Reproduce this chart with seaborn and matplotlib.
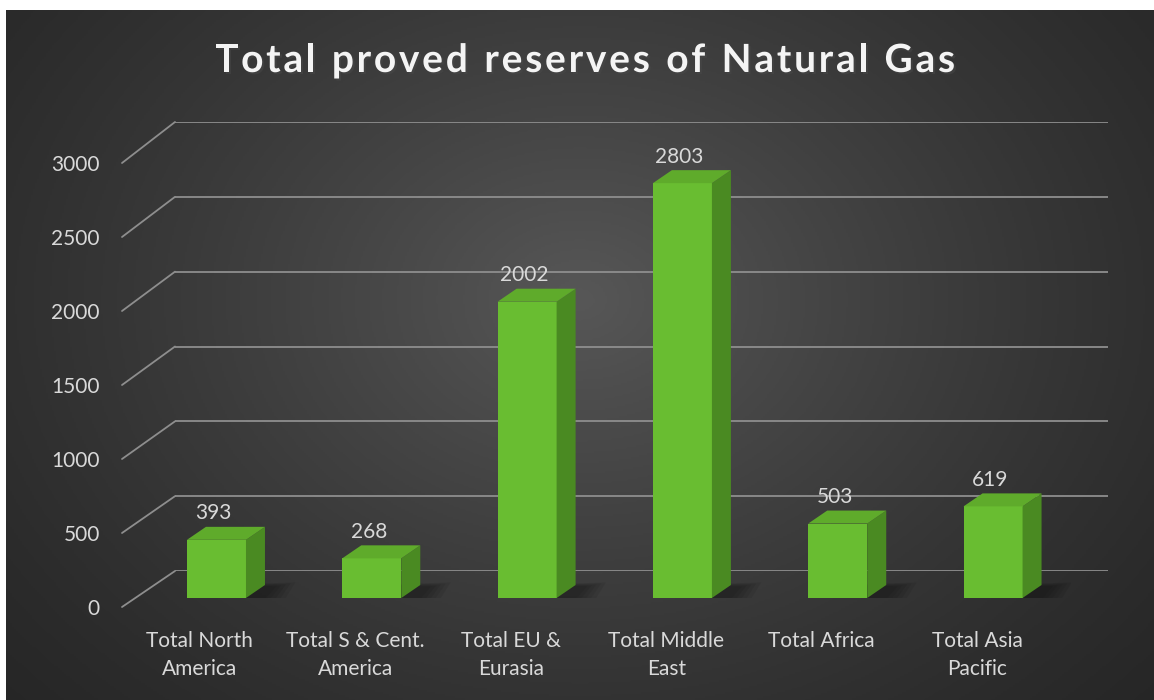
import numpy as np
import seaborn as sns
import matplotlib.pyplot as plt
from matplotlib.patches import Polygon, ConnectionPatch
from matplotlib.colors import LinearSegmentedColormap
import matplotlib.patheffects as pe

regions = ["Total North\nAmerica", "Total S & Cent.\nAmerica", "Total EU &\nEurasia",
           "Total Middle\nEast", "Total Africa", "Total Asia\nPacific"]
reserves = [393, 268, 2002, 2803, 503, 619]
yticks = [0, 500, 1000, 1500, 2000, 2500, 3000]
title = "Total proved reserves of Natural Gas"

W, H = 1154, 700
sns.set_style("white")
plt.rcParams["font.family"] = ["Lato", "DejaVu Sans"]

text_col = "#d9d9d9"
grid_col = "#8e8e8e"
front_col = "#69bd31"
top_col = "#5fab2b"
side_col = "#4a8a22"

fig = plt.figure(figsize=(W / 100, H / 100), dpi=100, facecolor="white")


def box(left, right, y0, ytop):
    # pixel box -> figure fraction
    return [left / W, (H - y0) / H, (right - left) / W, (y0 - ytop) / H]


# dark radial background
bg = fig.add_axes([6 / W, 0, 1 - 6 / W, 690 / H])
yy, xx = np.mgrid[0:1:350j, 0:1:575j]
r = np.sqrt(((xx - 0.5) / 0.7) ** 2 + ((yy - 0.42) / 0.9) ** 2)
shade = np.clip(1 - r, 0, 1) ** 1.3
cmap = LinearSegmentedColormap.from_list("bg", ["#262626", "#575757"])
bg.imshow(shade, cmap=cmap, aspect="auto", extent=[0, 1, 0, 1], vmin=0, vmax=1)
bg.set_axis_off()

# back wall with gridlines
ax_back = fig.add_axes(box(175, 1108, 571, 122), facecolor="none")
ax_back.set_xlim(-0.5, 5.5)
ax_back.set_ylim(0, 3000)
ax_back.set_yticks(yticks)
ax_back.set_xticks([])
ax_back.yaxis.grid(True, color=grid_col, lw=1.3)
ax_back.tick_params(left=False, labelleft=False)
sns.despine(ax=ax_back, left=True, bottom=True)

# front edge: tick labels and category names
ax_front = fig.add_axes(box(122, 1055, 607, 163), facecolor="none")
ax_front.set_xlim(-0.5, 5.5)
ax_front.set_ylim(0, 3000)
ax_front.set_yticks(yticks)
ax_front.set_xticks(range(len(regions)))
ax_front.set_xticklabels(regions, linespacing=1.5)
ax_front.tick_params(axis="y", length=0, pad=16, labelsize=15, colors=text_col)
ax_front.tick_params(axis="x", length=0, pad=17, labelsize=15, colors=text_col)
sns.despine(ax=ax_front, left=True, bottom=True)

for v in yticks:
    con = ConnectionPatch(xyA=(-0.5, v), coordsA=ax_front.transData,
                          xyB=(-0.5, v), coordsB=ax_back.transData,
                          color=grid_col, lw=1.3)
    fig.add_artist(con)

# bars (front plane)
ax = fig.add_axes(box(138.8, 1070.7, 598, 154), facecolor="none")
sns.barplot(x=list(range(len(regions))), y=reserves, ax=ax, color=front_col,
            width=0.38, saturation=1, linewidth=0, zorder=3)
ax.set_xlim(-0.5, 5.5)
ax.set_ylim(0, 3000)
ax.set_axis_off()

ddx = 19 * 6 / (1070.7 - 138.8)
ddy = 13 * 3000 / 444
for p, v in zip(ax.patches, reserves):
    x0, w, h = p.get_x(), p.get_width(), p.get_height()
    # soft floor shadow: stacked translucent layers
    for k in range(5):
        s = 1 + 0.25 * k
        shadow = Polygon([(x0 + w * 0.2, -0.1 * ddy * s), (x0 + w + ddx * s, -0.1 * ddy * s),
                          (x0 + w + ddx * (0.6 + s), ddy * (0.6 + 0.3 * s)),
                          (x0 + w * 0.2 + ddx, ddy)],
                         closed=True, facecolor="black", alpha=0.07, lw=0, zorder=2)
        ax.add_patch(shadow)
    side = Polygon([(x0 + w, 0), (x0 + w + ddx, ddy), (x0 + w + ddx, h + ddy), (x0 + w, h)],
                   closed=True, facecolor=side_col, lw=0, zorder=3)
    top = Polygon([(x0, h), (x0 + w, h), (x0 + w + ddx, h + ddy), (x0 + ddx, h + ddy)],
                  closed=True, facecolor=top_col, lw=0, zorder=3)
    ax.add_patch(side)
    ax.add_patch(top)
    ax.annotate(str(v), (x0 + w / 2, h), xytext=(-2, 19), textcoords="offset points",
                ha="center", va="center", color=text_col, fontsize=15)

# title with letter spacing (drawn char by char), spread to ~740 px
renderer = fig.canvas.get_renderer()
title_kw = dict(fontsize=28, fontweight="bold", color="#f4f4f4", va="baseline",
                path_effects=[pe.withSimplePatchShadow(offset=(1.5, -1.5), alpha=0.5)])
widths = []
for ch in title:
    t = fig.text(0, 0, ch if ch != " " else "n", **title_kw)
    wpx = t.get_window_extent(renderer).width
    widths.append(wpx * (0.5 if ch == " " else 1.0))
    t.remove()
tracking = (740 - sum(widths)) / (len(title) - 1)
xpos = 585 - 370
for ch, wpx in zip(title, widths):
    if ch != " ":
        fig.text(xpos / W, 1 - 72 / H, ch, ha="left", **title_kw)
    xpos += wpx + tracking

fig.savefig("out.png", dpi=100, facecolor=fig.get_facecolor())
